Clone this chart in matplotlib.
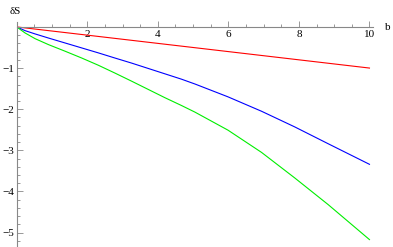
import matplotlib
matplotlib.use("Agg")
import matplotlib.pyplot as plt
from matplotlib.ticker import MultipleLocator, FixedLocator

# values
b_red = [0, 10]
s_red = [0, -1.0]

b_blue = [0, 0.235, 0.52, 0.90, 1.37, 1.84, 2.31, 2.78, 3.26, 3.73, 4.20,
          4.67, 5.06, 5.99, 6.94, 7.88, 8.83, 10]
s_blue = [0, -0.09, -0.17, -0.27, -0.39, -0.51, -0.63, -0.755, -0.88, -1.01,
          -1.14, -1.27, -1.39, -1.70, -2.05, -2.43, -2.84, -3.34]

b_green = [0, 0.235, 0.52, 0.90, 1.37, 1.84, 2.31, 2.78, 3.26, 3.73, 4.20,
           4.67, 5.05, 5.99, 6.94, 7.88, 8.83, 10]
s_green = [0, -0.146, -0.285, -0.43, -0.59, -0.755, -0.93, -1.12, -1.32,
           -1.52, -1.72, -1.91, -2.07, -2.51, -3.05, -3.67, -4.32, -5.17]

x_ticks = [2, 4, 6, 8, 10]
y_ticks = [-1, -2, -3, -4, -5]

plt.rcParams['font.family'] = ['Liberation Serif', 'DejaVu Serif']

fig = plt.figure(figsize=(3.93, 2.47), dpi=100)
ax = fig.add_axes([0.0425, 0.0, 0.9066, 0.911])

ax.plot(b_red, s_red, color='#ff0000', lw=0.8)
ax.plot(b_blue, s_blue, color='#0000ff', lw=0.8)
ax.plot(b_green, s_green, color='#00ee00', lw=0.8)

ax.set_xlim(0, 10.1)
ax.set_ylim(-5.35, 0.12)

for side in ['top', 'right']:
    ax.spines[side].set_visible(False)
ax.spines['left'].set_position(('data', 0))
ax.spines['bottom'].set_position(('data', 0))
for side in ['left', 'bottom']:
    ax.spines[side].set_color('#888888')
    ax.spines[side].set_linewidth(0.8)

ax.xaxis.set_major_locator(FixedLocator(x_ticks))
ax.xaxis.set_minor_locator(MultipleLocator(0.5))
ax.yaxis.set_major_locator(FixedLocator(y_ticks))
ax.yaxis.set_minor_locator(MultipleLocator(0.2))
ax.set_xticklabels([str(v) for v in x_ticks])
ax.set_yticklabels(['\u2212' + str(-v) for v in y_ticks])

ax.tick_params(axis='x', which='major', direction='in', length=4, width=0.6,
               color='#888888', labelsize=8, pad=2)
ax.tick_params(axis='x', which='minor', direction='in', length=2, width=0.6,
               color='#888888')
ax.tick_params(axis='y', which='major', direction='in', length=4, width=0.6,
               color='#888888', labelsize=8, pad=2)
ax.tick_params(axis='y', which='minor', direction='in', length=2, width=0.6,
               color='#888888')

fig.text(385 / 393, 1 - 27 / 247, 'b', fontsize=8, ha='left', va='center')
fig.text(10 / 393, 1 - 12 / 247, '\u03b4S', fontsize=8, ha='left', va='center')

fig.savefig('out.png', dpi=100)
